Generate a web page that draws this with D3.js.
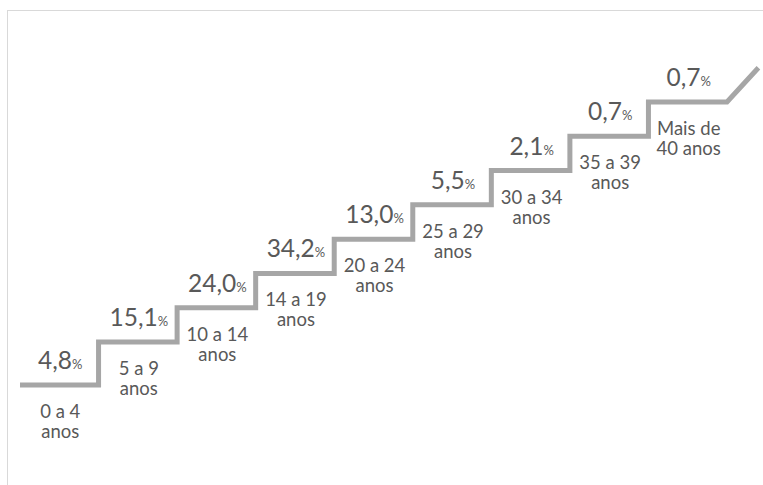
<!DOCTYPE html>
<html>
<head>
<meta charset="utf-8">
<script src="https://cdn.jsdelivr.net/npm/d3@7/dist/d3.min.js"></script>
<style>
  html, body { margin: 0; padding: 0; background: #fff; }
  svg { display: block; }
  text { font-family: Lato, "Open Sans", sans-serif; fill: #595959; }
</style>
</head>
<body>
<script>
// Data
const categories = [["0 a 4", "anos"], ["5 a 9", "anos"], ["10 a 14", "anos"], ["14 a 19", "anos"],
  ["20 a 24", "anos"], ["25 a 29", "anos"], ["30 a 34", "anos"], ["35 a 39", "anos"], ["Mais de", "40 anos"]];
const values = [4.8, 15.1, 24.0, 34.2, 13.0, 5.5, 2.1, 0.7, 0.7];
const stepLevels = [0, 1, 2, 3, 4, 5, 6, 7, 8];

const W = 763, H = 485;
const svg = d3.select("body").append("svg").attr("width", W).attr("height", H);

// frame
svg.append("rect").attr("x", 7.5).attr("y", 10.5).attr("width", W).attr("height", H)
  .attr("fill", "none").attr("stroke", "#d9d9d9").attr("stroke-width", 1);

const idx = d3.range(categories.length);
const x = d3.scaleBand().domain(idx).range([20, 727]).paddingInner(0).paddingOuter(0);
const y = d3.scaleLinear().domain([0, 1, 8]).range([385, 342, 102]);

// staircase path
const pts = [];
idx.forEach(i => {
  const lvl = stepLevels[i];
  pts.push([x(i), y(lvl)]);
  pts.push([x(i) + x.bandwidth(), y(lvl)]);
});
const last = idx[idx.length - 1];
pts.push([x(last) + x.bandwidth() + x.bandwidth() * 0.4, y(stepLevels[last] + 1)]);

svg.append("path")
  .attr("d", d3.line()(pts))
  .attr("fill", "none")
  .attr("stroke", "#a6a6a6")
  .attr("stroke-width", 5)
  .attr("stroke-linejoin", "miter");

const fmt = v => v.toFixed(1).replace(".", ",");

// value labels
idx.forEach(i => {
  const cx = x(i) + x.bandwidth() / 2 + 1;
  const ly = y(stepLevels[i]);
  const t = svg.append("text")
    .attr("x", cx).attr("y", ly - 16)
    .attr("text-anchor", "middle");
  t.append("tspan").style("font-size", "24.5px").text(fmt(values[i]));
  t.append("tspan").style("font-size", "13px").text("%");

  const c = svg.append("text")
    .attr("x", cx).attr("y", ly + 33)
    .attr("text-anchor", "middle")
    .style("font-size", "18.5px");
  c.append("tspan").attr("x", cx).attr("dy", 0).text(categories[i][0]);
  c.append("tspan").attr("x", cx).attr("dy", 20).text(categories[i][1]);
});
</script>
</body>
</html>
